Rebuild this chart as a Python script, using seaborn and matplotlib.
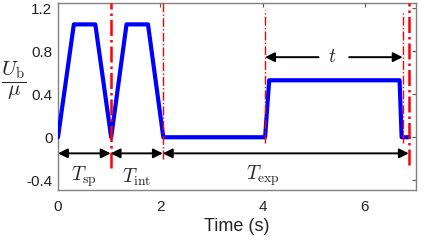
import matplotlib
matplotlib.use("Agg")
import matplotlib.pyplot as plt
import seaborn as sns
import pandas as pd

time_s = [0, 0.31, 0.73, 1.04, 1.34, 1.76, 2.06, 4.05, 4.13, 6.68, 6.72, 6.86]
ub_mu = [0, 1.05, 1.05, 0, 1.05, 1.05, 0, 0, 0.53, 0.53, 0, 0]

# red dash-dot markers: (time, ymin, ymax, linewidth)
marker_times = [1.03, 2.05, 4.05, 6.74, 6.86]
marker_ymin = [-0.29, -0.2, -0.05, -0.05, -0.26]
marker_ymax = [1.25, 1.25, 1.18, 1.17, 1.25]
marker_lw = [1.8, 1.0, 1.0, 1.0, 1.8]

arrow_spans = [(0, 1.03), (1.03, 2.05), (2.05, 6.86)]
arrow_y = -0.15
arrow_labels = [r"$T_{\rm sp}$", r"$T_{\rm int}$", r"$T_{\rm exp}$"]
arrow_label_x = [0.5, 1.53, 4.0]
arrow_label_y = [-0.37, -0.37, -0.36]

t_span = (4.05, 6.74)
t_y = 0.745

xticks = [0, 2, 4, 6]
yticks = [-0.4, 0, 0.4, 0.8, 1.2]
yticklabels = ["-0.4", "0", "0.4", "0.8", "1.2"]

sns.set_style("white")
plt.rcParams["font.family"] = ["Liberation Sans", "DejaVu Sans"]
plt.rcParams["mathtext.fontset"] = "cm"

fig = plt.figure(figsize=(4.36, 2.41), dpi=100)
ax = fig.add_axes([0.133, 0.212, 0.821, 0.776])

df = pd.DataFrame({"Time": time_s, "U": ub_mu})
sns.lineplot(data=df, x="Time", y="U", ax=ax, color="#0000ff", lw=3, sort=False, zorder=3)

for t, y0, y1, lw in zip(marker_times, marker_ymin, marker_ymax, marker_lw):
    ax.plot([t, t], [y0, y1], color="red", ls="-.", lw=lw, zorder=4)

for (a, b) in arrow_spans:
    ax.annotate("", xy=(b, arrow_y), xytext=(a, arrow_y),
                arrowprops=dict(arrowstyle="<|-|>", color="black", lw=1.4,
                                mutation_scale=14, shrinkA=0, shrinkB=0), zorder=5)
for lab, x, y in zip(arrow_labels, arrow_label_x, arrow_label_y):
    ax.text(x, y, lab, fontsize=14, ha="center", va="center")

mid = (t_span[0] + t_span[1]) / 2
ax.annotate("", xy=(t_span[0], t_y), xytext=(mid - 0.3, t_y),
            arrowprops=dict(arrowstyle="-|>", color="black", lw=1.4,
                            mutation_scale=14, shrinkA=0, shrinkB=0))
ax.annotate("", xy=(t_span[1], t_y), xytext=(mid + 0.3, t_y),
            arrowprops=dict(arrowstyle="-|>", color="black", lw=1.4,
                            mutation_scale=14, shrinkA=0, shrinkB=0))
ax.text(mid - 0.03, t_y, r"$t$", fontsize=14, ha="center", va="center")

ax.set_xlim(0, 7)
ax.set_ylim(-0.49, 1.25)
ax.set_xticks(xticks)
ax.set_yticks(yticks)
ax.set_yticklabels(yticklabels)
ax.tick_params(direction="in", top=True, right=True, length=3, width=0.8,
               color="#555555", labelsize=11, pad=4, labelcolor="#222222")
ax.tick_params(axis="x", pad=7)
for s in ax.spines.values():
    s.set_color("#808080")
    s.set_linewidth(1.0)

ax.set_xlabel("Time (s)", fontsize=13, labelpad=3, color="#222222")
ax.set_ylabel(r"$\dfrac{U_{\rm b}}{\mu}$", fontsize=15, rotation=0,
              ha="right", va="center")
ax.yaxis.set_label_coords(-0.088, 0.585)

fig.savefig("out.png", dpi=100)
